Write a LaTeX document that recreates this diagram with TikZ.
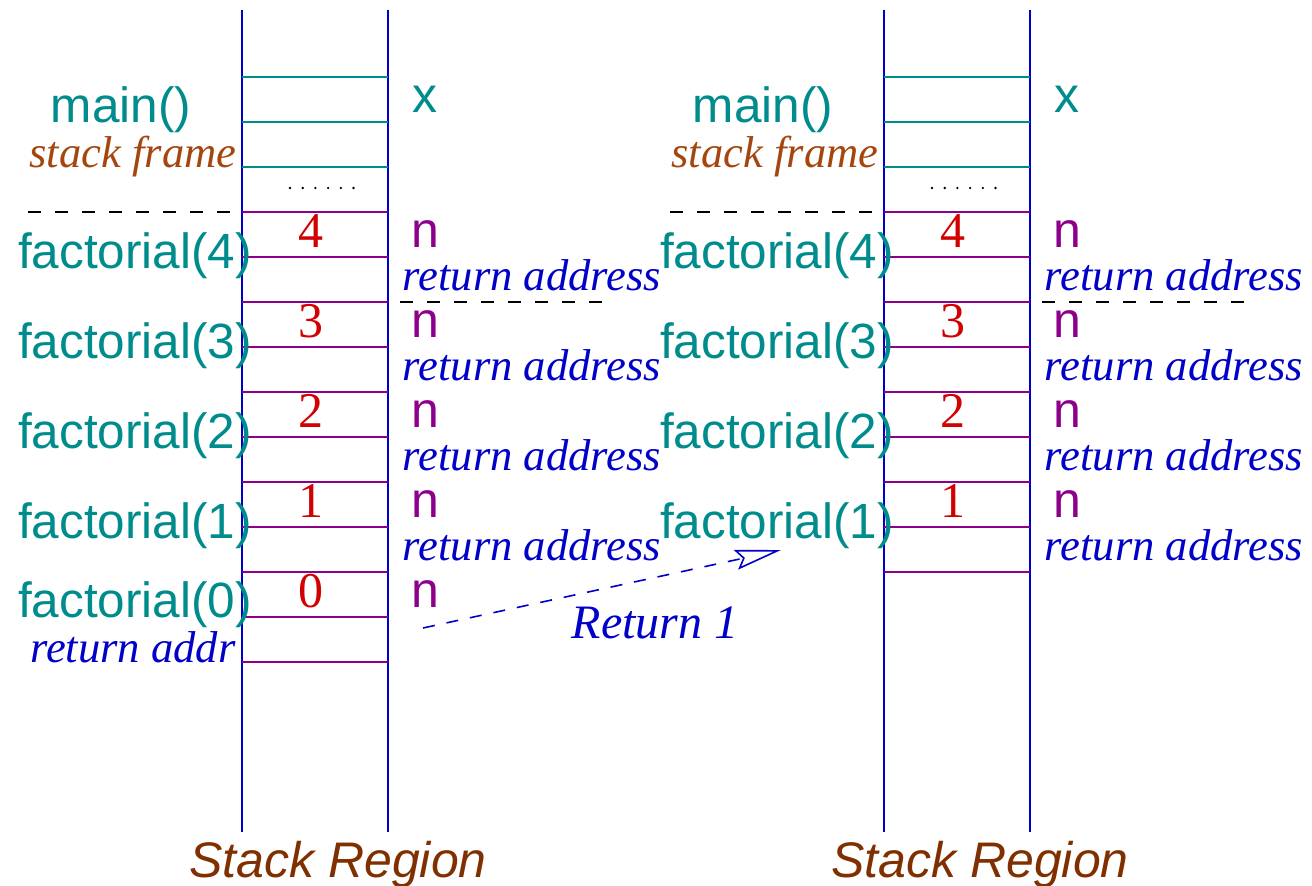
\documentclass[tikz,border=0pt]{standalone}
\usepackage{fontspec}
\setmainfont{Liberation Serif}
\setsansfont{Liberation Sans}
\usetikzlibrary{arrows.meta}
\definecolor{cteal}{RGB}{0,140,140}
\definecolor{cpurple}{RGB}{140,0,140}
\definecolor{cblue}{RGB}{0,0,200}
\definecolor{cred}{RGB}{210,0,0}
\definecolor{cframe}{RGB}{165,70,15}
\definecolor{cregion}{RGB}{128,48,0}
\begin{document}
\begin{tikzpicture}[x=1pt,y=-1pt,
  lbl/.style={inner sep=0pt,anchor=base},
  func/.style={lbl,text=cteal,font=\sffamily\fontsize{49.5}{49.5}\selectfont},
  var/.style={lbl,font=\sffamily\fontsize{50}{50}\selectfont},
  num/.style={lbl,text=cred,font=\rmfamily\fontsize{50}{50}\selectfont},
  ret/.style={lbl,text=cblue,font=\rmfamily\itshape\fontsize{44.6}{44.6}\selectfont},
  frametxt/.style={lbl,text=cframe,font=\rmfamily\itshape\fontsize{44.6}{44.6}\selectfont},
  region/.style={lbl,text=cregion,font=\sffamily\itshape\fontsize{50}{50}\selectfont},
  vline/.style={draw=cblue,line width=2.4pt},
  tealline/.style={draw=cteal,line width=2pt},
  purpline/.style={draw=cpurple,line width=2pt},
  sep/.style={draw=black,line width=2pt,dash pattern=on 13pt off 14pt},
  retarrow/.style={draw=cblue,line width=1.6pt,dash pattern=on 12pt off 12pt,
    -{Stealth[open,length=46pt,width=20pt,inset=7pt]}}]
\useasboundingbox (0,0) rectangle (1312,886);

% ---------- stack before the return ----------
\draw[vline] (242,10) -- (242,832);
\draw[vline] (388,10) -- (388,832);
\foreach \y in {77,122,167} \draw[tealline] (242,\y) -- (388,\y);
\foreach \y in {212,257,...,662} \draw[purpline] (242,\y) -- (388,\y);
\foreach \i in {0,...,5} \fill (290+12.7*\i,188) circle (1.3);
\draw[sep] (28,212) -- (236,212);
\draw[sep] (400,302) -- (606,302);

\node[func] (Lmain) at (121,122) {main()};
\node[frametxt] (Lframe) at (133,167) {stack frame};
\node[var,text=cteal] (Lx) at (425,112) {x};
\foreach \k [count=\i from 0] in {4,3,2,1} {
  \node[func] (Lf\k) at (135,268+90*\i) {factorial(\k)};
  \node[num] (Lv\k) at (311,247+90*\i) {\k};
  \node[var,text=cpurple] (Ln\k) at (425,247+90*\i) {n};
  \node[ret] (Lr\k) at (532,290+90*\i) {return address};
}
\node[func] (Lf0) at (135,617) {factorial(0)};
\node[num] (Lv0) at (311,607) {0};
\node[var,text=cpurple] (Ln0) at (425,607) {n};
\node[ret] (Lr0) at (133,662) {return addr};
\node[region] (Lregion) at (338,877) {Stack Region};

% ---------- stack after factorial(0) has returned ----------
\begin{scope}[xshift=642pt]
\draw[vline] (242,10) -- (242,832);
\draw[vline] (388,10) -- (388,832);
\foreach \y in {77,122,167} \draw[tealline] (242,\y) -- (388,\y);
\foreach \y in {212,257,...,572} \draw[purpline] (242,\y) -- (388,\y);
\foreach \i in {0,...,5} \fill (290+12.7*\i,188) circle (1.3);
\draw[sep] (28,212) -- (236,212);
\draw[sep] (400,302) -- (606,302);

\node[func] (Rmain) at (121,122) {main()};
\node[frametxt] (Rframe) at (133,167) {stack frame};
\node[var,text=cteal] (Rx) at (425,112) {x};
\foreach \k [count=\i from 0] in {4,3,2,1} {
  \node[func] (Rf\k) at (135,268+90*\i) {factorial(\k)};
  \node[num] (Rv\k) at (311,247+90*\i) {\k};
  \node[var,text=cpurple] (Rn\k) at (425,247+90*\i) {n};
  \node[ret] (Rr\k) at (532,290+90*\i) {return address};
}
\node[region] (Rregion) at (338,877) {Stack Region};
\end{scope}

% ---------- the returned value ----------
\coordinate (retfrom) at (423,628);
\coordinate (retto) at (781,550);
\draw[retarrow] (retfrom) -- (retto);
\node[lbl,text=cblue,font=\rmfamily\itshape\fontsize{48}{48}\selectfont] (retval) at (655,638) {Return 1};
\end{tikzpicture}
\end{document}
